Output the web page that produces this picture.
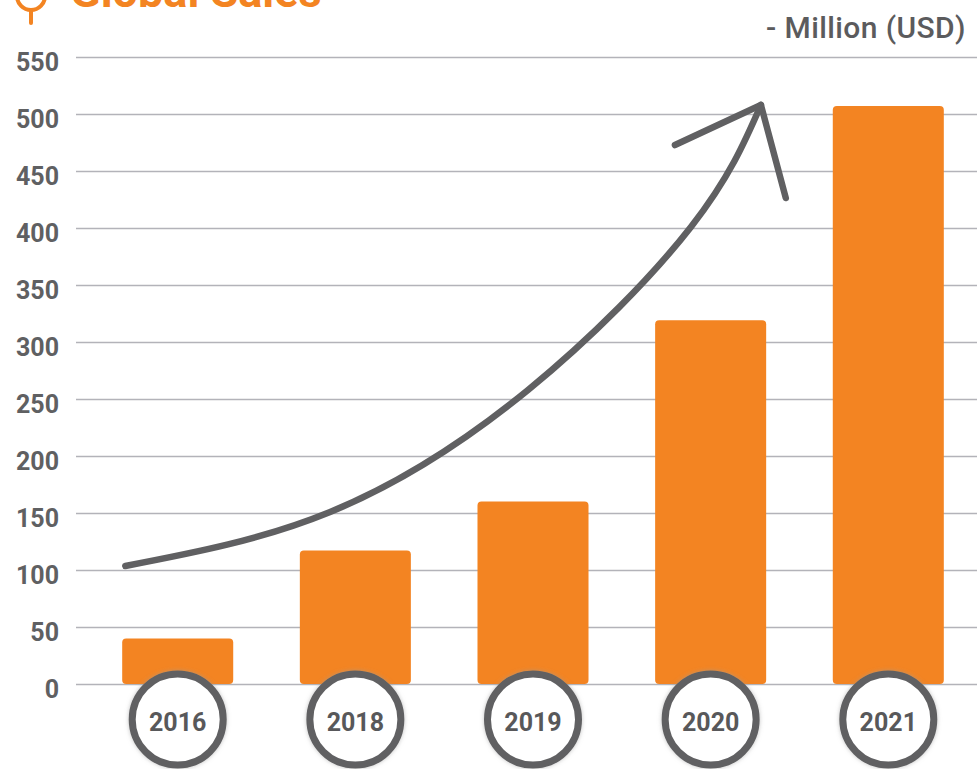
<!DOCTYPE html>
<html>
<head>
<meta charset="utf-8">
<script src="https://cdn.jsdelivr.net/npm/d3@7"></script>
<style>
  body { margin: 0; background: #fff; }
  text { font-family: Roboto, "Noto Sans", sans-serif; }
</style>
</head>
<body>
<div id="sales-chart"></div>
<script>
// chart values
var years = ["2016", "2018", "2019", "2020", "2021"];
var sales = [40, 117, 160, 319, 507];
var yTicks = [0, 50, 100, 150, 200, 250, 300, 350, 400, 450, 500, 550];
var titleText = "Global Sales";
var unitText = "- Million (USD)";

// trend arrow, in (bar index, value) units
var trendIndex = [-0.295, 0.858, 1.972, 2.889, 3.283];
var trendValue = [103.5, 150.9, 257.9, 400.9, 507.9];
var headIndex = [2.799, 3.283, 3.423];
var headValue = [472.8, 507.9, 426.3];

var vis = {};
vis.width = 977;
vis.height = 769;
vis.margin = { top: 57, left: 76, bottom: 85 };

var orange = "#f38422";
var grey = "#606062";

vis.svg = d3
  .select("#sales-chart")
  .append("svg")
  .attr("width", vis.width)
  .attr("height", vis.height);

// soft halo for the year badges
var defs = vis.svg.append("defs");
defs
  .append("filter")
  .attr("id", "halo")
  .attr("x", "-30%")
  .attr("y", "-30%")
  .attr("width", "160%")
  .attr("height", "160%")
  .append("feDropShadow")
  .attr("dx", 0)
  .attr("dy", 0)
  .attr("stdDeviation", 2)
  .attr("flood-color", "#999")
  .attr("flood-opacity", 0.6);

// scales
vis.y = d3
  .scaleLinear()
  .domain([0, 550])
  .range([vis.height - vis.margin.bottom, vis.margin.top]);

vis.x = d3
  .scaleBand()
  .domain(years)
  .range([vis.margin.left, 990])
  .paddingInner(0.375)
  .paddingOuter(0.26);

var center = (d) => vis.x(d) + vis.x.bandwidth() / 2;

vis.xi = d3
  .scaleLinear()
  .domain([0, years.length - 1])
  .range([center(years[0]), center(years[years.length - 1])]);

// y axis + grid
vis.yAxis = d3
  .axisLeft(vis.y)
  .tickValues(yTicks)
  .tickSizeInner(-(vis.width - vis.margin.left))
  .tickSizeOuter(0)
  .tickPadding(17);

vis.svg
  .append("g")
  .attr("class", "y-axis axis")
  .attr("transform", "translate(" + vis.margin.left + ",0)")
  .call(vis.yAxis)
  .call((g) => g.select(".domain").remove())
  .call((g) =>
    g.selectAll(".tick line").attr("stroke", "#b3b3b9").attr("stroke-width", 1.6)
  )
  .call((g) =>
    g
      .selectAll(".tick text")
      .attr("fill", "#5f6062")
      .attr("font-size", 25)
      .attr("font-weight", 700)
      .attr("dy", "0.52em")
      .style("font-family", "Roboto, sans-serif")
  );

// bars
vis.svg
  .selectAll(".bar")
  .data(sales)
  .enter()
  .append("rect")
  .attr("class", "bar")
  .attr("x", (d, i) => vis.x(years[i]))
  .attr("y", (d) => vis.y(d))
  .attr("width", vis.x.bandwidth())
  .attr("height", (d) => vis.y(0) - vis.y(d))
  .attr("rx", 4)
  .attr("fill", orange);

// trend arrow
var line = d3
  .line()
  .x((d) => vis.xi(d[0]))
  .y((d) => vis.y(d[1]))
  .curve(d3.curveNatural);

vis.svg
  .append("path")
  .attr("d", line(d3.zip(trendIndex, trendValue)))
  .attr("fill", "none")
  .attr("stroke", grey)
  .attr("stroke-width", 6.5)
  .attr("stroke-linecap", "round");

vis.svg
  .append("path")
  .attr("d", line.curve(d3.curveLinear)(d3.zip(headIndex, headValue)))
  .attr("fill", "none")
  .attr("stroke", grey)
  .attr("stroke-width", 6.5)
  .attr("stroke-linecap", "round")
  .attr("stroke-linejoin", "round");

// year badges
var badgeY = 719.5;
var badges = vis.svg
  .selectAll(".badge")
  .data(years)
  .enter()
  .append("g")
  .attr("class", "badge")
  .attr("transform", (d) => "translate(" + center(d) + "," + badgeY + ")");

badges
  .append("circle")
  .attr("r", 45.5)
  .attr("fill", "#fff")
  .attr("stroke", grey)
  .attr("stroke-width", 7)
  .attr("filter", "url(#halo)");

badges
  .append("text")
  .attr("text-anchor", "middle")
  .attr("dy", "0.47em")
  .attr("font-size", 25)
  .attr("font-weight", 700)
  .attr("fill", "#58585a")
  .text((d) => d);

// unit label
vis.svg
  .append("text")
  .attr("x", 966)
  .attr("y", 38)
  .attr("text-anchor", "end")
  .attr("font-size", 30)
  .attr("font-weight", 500)
  .attr("letter-spacing", 0.4)
  .attr("fill", "#5b5b5d")
  .text(unitText);

// title (cut off at top, as in the source) with pin icon
vis.svg
  .append("text")
  .attr("x", 70)
  .attr("y", 7)
  .attr("font-size", 45)
  .attr("font-weight", 700)
  .attr("fill", orange)
  .text(titleText);

vis.svg
  .append("circle")
  .attr("cx", 31)
  .attr("cy", -4)
  .attr("r", 14)
  .attr("fill", "none")
  .attr("stroke", orange)
  .attr("stroke-width", 4);

vis.svg
  .append("line")
  .attr("x1", 31)
  .attr("x2", 31)
  .attr("y1", 10)
  .attr("y2", 23)
  .attr("stroke", orange)
  .attr("stroke-width", 4)
  .attr("stroke-linecap", "round");
</script>
</body>
</html>
